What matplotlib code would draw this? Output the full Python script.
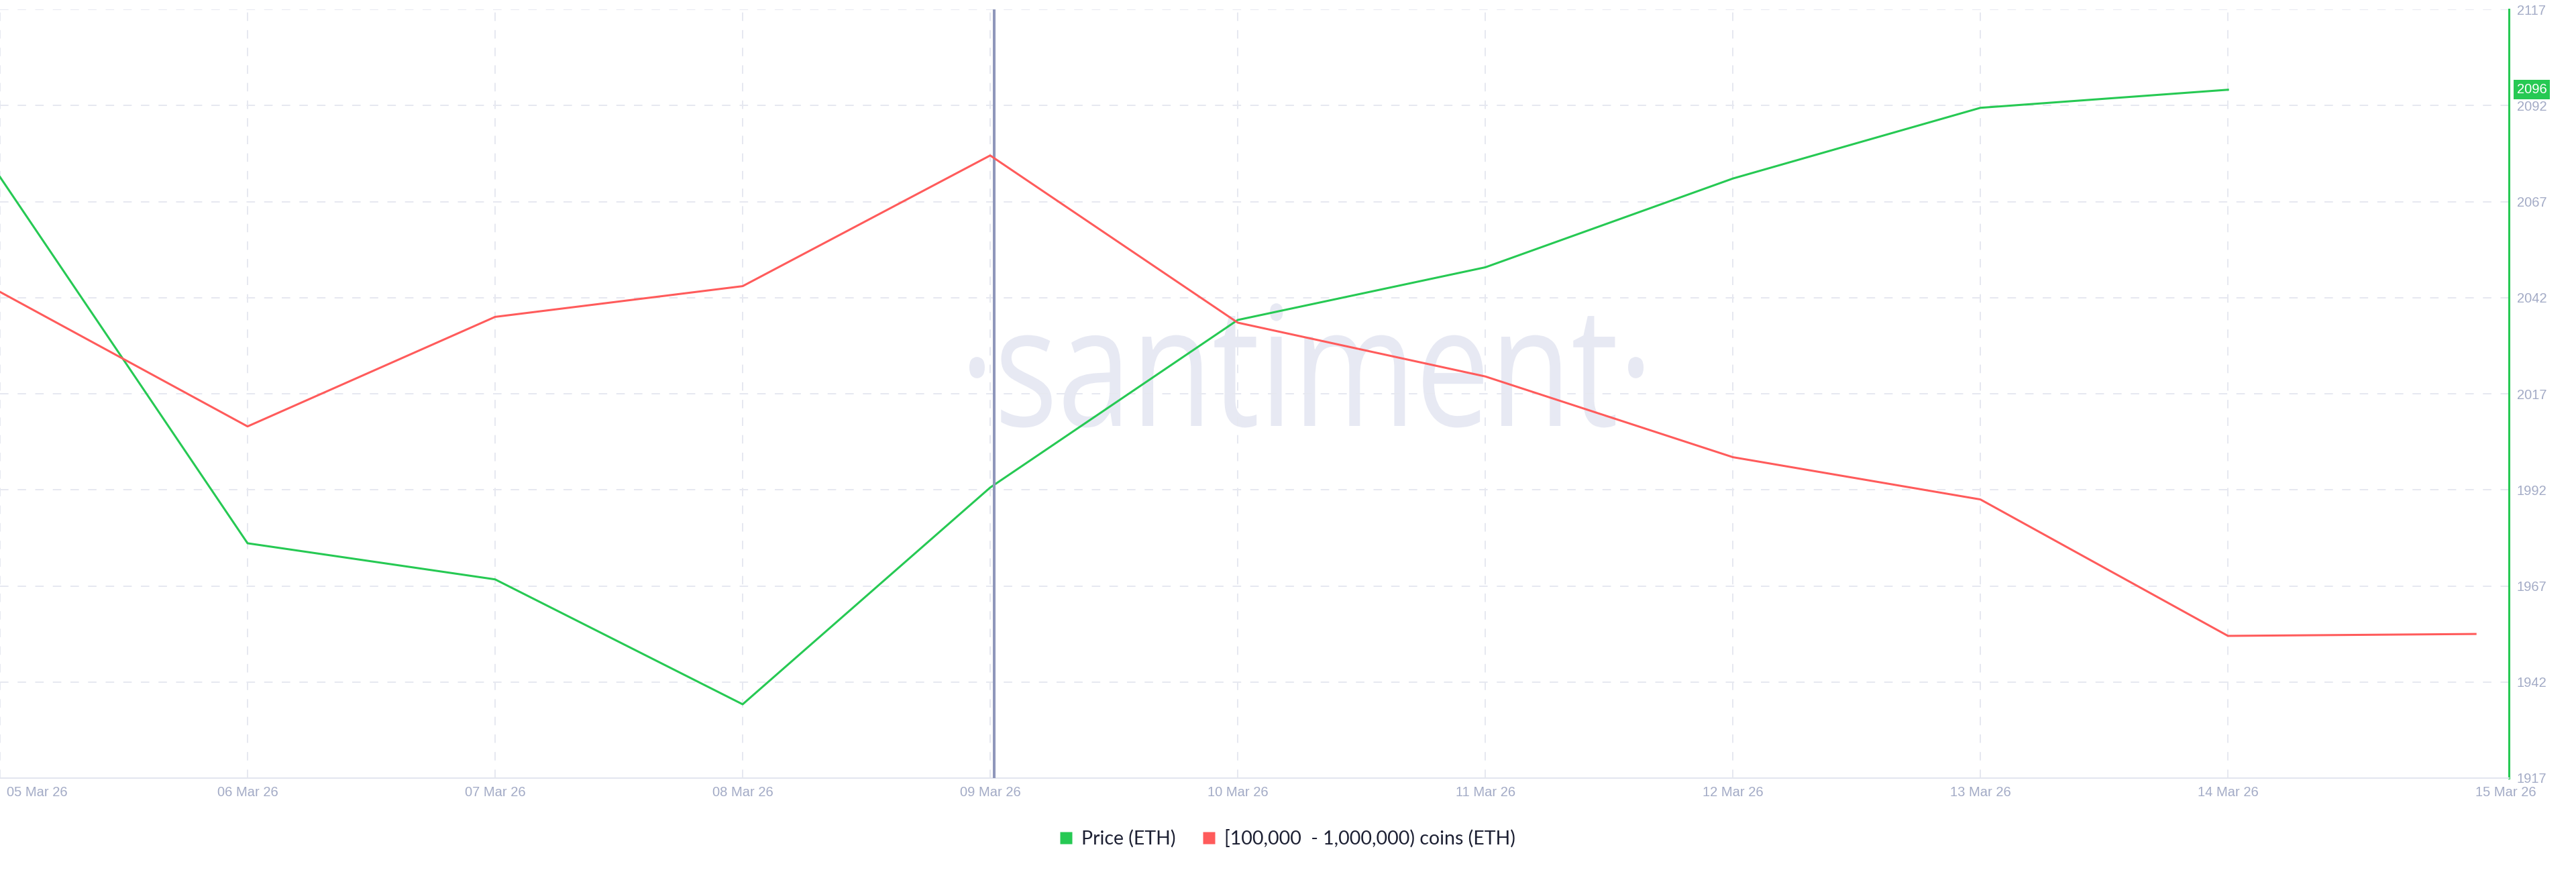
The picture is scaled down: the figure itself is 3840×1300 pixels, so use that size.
import matplotlib
matplotlib.use("Agg")
import matplotlib.pyplot as plt
import matplotlib.dates as mdates
import pandas as pd
from matplotlib.font_manager import FontProperties
from matplotlib.lines import Line2D
from matplotlib.patches import PathPatch
from matplotlib.textpath import TextPath
from matplotlib.transforms import Affine2D, ScaledTranslation, blended_transform_factory

# Данные графика
price_dates = ["2026-03-05", "2026-03-06", "2026-03-07", "2026-03-08", "2026-03-09",
               "2026-03-10", "2026-03-11", "2026-03-12", "2026-03-13", "2026-03-14"]
price_eth = [2073.4, 1978.1, 1968.7, 1936.2, 1992.6, 2036.2, 2049.9, 2073.0, 2091.4, 2096.1]

holders_dates = ["2026-03-05", "2026-03-06", "2026-03-07", "2026-03-08", "2026-03-09",
                 "2026-03-10", "2026-03-11", "2026-03-12", "2026-03-13", "2026-03-14",
                 "2026-03-15"]
# баланс кошельков [100,000 - 1,000,000) ETH, млн ETH
holders_balance = [20.153, 20.083, 20.140, 20.156, 20.224, 20.137, 20.109, 20.067,
                   20.045, 19.974, 19.975]

price_ticks = [1917, 1942, 1967, 1992, 2017, 2042, 2067, 2092, 2117]
last_price_label = "2096"
legend_labels = ["Price (ETH)", "[100,000  - 1,000,000) coins (ETH)"]

GREEN = "#26c953"
RED = "#ff5b5b"
TICK_COLOR = "#a3abc6"
GRID_COLOR = "#e6e8f0"

px = pd.to_datetime(price_dates)
hx = pd.to_datetime(holders_dates)

fig = plt.figure(figsize=(38.4, 13), dpi=100, facecolor="white")
ax = fig.add_axes([0.0, 0.1077, 0.97396, 0.8815])
ax.set_facecolor("white")

# Вторая (скрытая) ось для балансов
ax2 = ax.twinx()
ax2.set_ylim(19.90, 20.30)
ax2.axis("off")

x0 = mdates.date2num(px[0])
ax.set_xlim(x0, x0 + 10.135)
ax.set_ylim(1917, 2117)

# Сетка
ax.set_xticks(mdates.date2num(hx))
ax.set_yticks(price_ticks)
ax.grid(True, color=GRID_COLOR, linewidth=1.4, linestyle=(0, (6.5, 7)))
ax.set_axisbelow(True)

ax.xaxis.set_major_formatter(mdates.DateFormatter("%d %b %y"))
ax.yaxis.tick_right()
ax.tick_params(axis="both", length=0, colors=TICK_COLOR, labelsize=14.5)
ax.tick_params(axis="y", pad=8.5)
ax.tick_params(axis="x", pad=9)
for lab in ax.get_xticklabels() + ax.get_yticklabels():
    lab.set_fontfamily("Liberation Sans")

fig.canvas.draw()
xlabels = ax.get_xticklabels()
xlabels[0].set_ha("left")
xlabels[0].set_transform(xlabels[0].get_transform() + ScaledTranslation(0.1, 0, fig.dpi_scale_trans))
xlabels[-1].set_ha("left")
# у последней даты (15 Mar) линии сетки нет
ax.xaxis.get_gridlines()[-1].set_visible(False)

for side in ["left", "top"]:
    ax.spines[side].set_visible(False)
ax.spines["right"].set_color(GREEN)
ax.spines["right"].set_linewidth(2.2)
ax.spines["bottom"].set_color("#e3e6ef")
ax.spines["bottom"].set_linewidth(1.5)

# Водяной знак
fp = FontProperties(family="Open Sans")
tp = TextPath((0, 0), "·santiment·", size=100, prop=fp)
bb = tp.get_extents()
sy = 133 / 53.5
sx = 1005 / bb.width
wm_tr = Affine2D().translate(-bb.x0, 0).scale(sx, sy).translate(1445, 665)
ax.add_patch(PathPatch(tp, transform=wm_tr, facecolor="#e7e9f3", edgecolor="none", zorder=0.1))

# Линии
ax.plot(mdates.date2num(px), price_eth, color=GREEN, linewidth=2.2, zorder=3)
ax2.plot(mdates.date2num(hx), holders_balance, color=RED, linewidth=2.2, zorder=3)

# Перекрестие на 09 Mar
ax.axvline(mdates.date2num(px[4]) + 0.016, color="#8f97bb", linewidth=2.9, zorder=4)

# Метка последней цены
tr = blended_transform_factory(ax.transAxes, ax.transData)
ax.text(1.0091, price_eth[-1], last_price_label, transform=tr, ha="center", va="center",
        color="white", fontsize=14.5, family="Liberation Sans", zorder=6, clip_on=False,
        bbox=dict(boxstyle="square,pad=0.25", facecolor=GREEN, edgecolor="none"))

# Легенда
handles = [
    Line2D([], [], marker="s", linestyle="none", markersize=13, markerfacecolor=GREEN, markeredgecolor="none"),
    Line2D([], [], marker="s", linestyle="none", markersize=13, markerfacecolor=RED, markeredgecolor="none"),
]
fig.legend(handles, legend_labels, loc="center", bbox_to_anchor=(0.4997, 0.0385), ncol=2,
           frameon=False, handlelength=0.7, handletextpad=0.45, columnspacing=1.4,
           prop=FontProperties(family="Lato", size=20.5), labelcolor="#1d2033")

fig.savefig("out.png", dpi=100, facecolor="white")
plt.close(fig)
